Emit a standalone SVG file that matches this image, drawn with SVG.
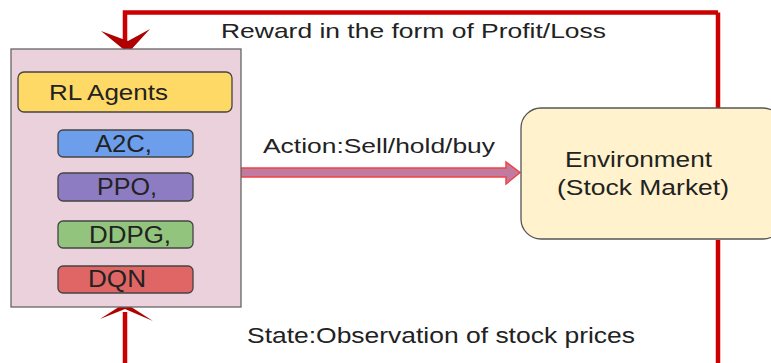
<svg xmlns="http://www.w3.org/2000/svg" width="771" height="363" viewBox="0 0 771 363">
<style>
text{font-family:"Liberation Sans",Arial,sans-serif;fill:#222}
.alg{stroke:#444;stroke-width:1.3}
.fb{stroke:#cc0000;stroke-width:4.5;fill:none}
.ah{fill:#b00000}
</style>
<rect width="771" height="363" fill="#fff"/>
<g id="connectors">
<path class="fb" d="M125,44 V12.5 H718"/>
<path class="fb" d="M718,12.5 V108" stroke="#cc3a1c"/>
<path class="fb" d="M718,240 V363"/>
<path class="fb" d="M125,363 V312"/>
<path class="ah" d="M101,31 L128,41 L150,29 L128,53 Z"/>
<path class="ah" d="M100,319 L125,309 L153,321 L125,303 Z"/>
<path d="M241,168 H506 V162 L520,172.5 L506,184 V177 H241 Z" fill="#c27ba0" stroke="#ee4444" stroke-width="1.5"/>
<text x="221" y="38" font-size="21" textLength="385" lengthAdjust="spacingAndGlyphs">Reward in the form of Profit/Loss</text>
<text x="263" y="153" font-size="21" textLength="232" lengthAdjust="spacingAndGlyphs">Action:Sell/hold/buy</text>
<text x="247" y="343" font-size="22" textLength="388" lengthAdjust="spacingAndGlyphs">State:Observation of stock prices</text>
</g>
<g id="agents">
<rect x="11" y="49" width="230" height="258" fill="#ead1dc" stroke="#666" stroke-width="1.3"/>
</g>
<g id="rl-agents">
<rect x="18" y="72" width="214" height="40" rx="6" fill="#ffd966" class="alg"/>
<text x="49" y="100" font-size="22" textLength="119" lengthAdjust="spacingAndGlyphs">RL Agents</text>
</g>
<g id="a2c">
<rect x="58" y="130" width="135" height="27" rx="5" fill="#6d9eeb" class="alg"/>
<text x="95" y="152" font-size="23" textLength="57" lengthAdjust="spacingAndGlyphs">A2C,</text>
</g>
<g id="ppo">
<rect x="58" y="173" width="135" height="28" rx="5" fill="#8e7cc3" class="alg"/>
<text x="97" y="195" font-size="23" textLength="60" lengthAdjust="spacingAndGlyphs">PPO,</text>
</g>
<g id="ddpg">
<rect x="58" y="221" width="135" height="27" rx="5" fill="#93c47d" class="alg"/>
<text x="89" y="243" font-size="23" textLength="82" lengthAdjust="spacingAndGlyphs">DDPG,</text>
</g>
<g id="dqn">
<rect x="58" y="266" width="135" height="27" rx="5" fill="#e06666" class="alg"/>
<text x="88" y="287" font-size="23" textLength="58" lengthAdjust="spacingAndGlyphs">DQN</text>
</g>
<g id="environment">
<rect x="521" y="108" width="262" height="131" rx="20" fill="#fff2cc" stroke="#555" stroke-width="1.3"/>
<text x="565" y="167" font-size="22" textLength="147" lengthAdjust="spacingAndGlyphs">Environment</text>
<text x="557" y="195" font-size="22" textLength="172" lengthAdjust="spacingAndGlyphs">(Stock Market)</text>
</g>
</svg>
